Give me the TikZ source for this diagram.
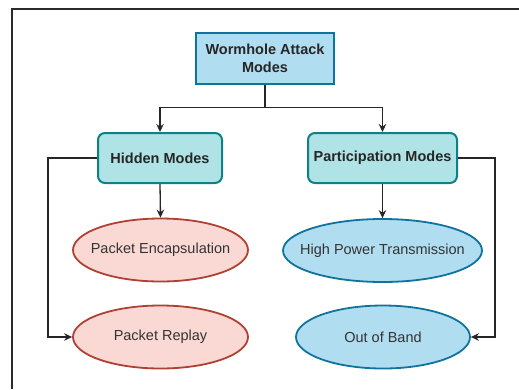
\documentclass[tikz,border=0pt]{standalone}
\usepackage{fontspec}
\setmainfont{Liberation Sans}
\usetikzlibrary{shapes.geometric,arrows.meta}
\definecolor{rootfill}{HTML}{B1DDF0}
\definecolor{rootdraw}{HTML}{10739E}
\definecolor{tealfill}{HTML}{B0E3E6}
\definecolor{tealdraw}{HTML}{0E8088}
\definecolor{pinkfill}{HTML}{FAD9D5}
\definecolor{pinkdraw}{HTML}{AE4132}
\definecolor{txtgray}{HTML}{333333}
\definecolor{framecol}{HTML}{2B2B2B}
\tikzset{
  rootbox/.style={draw=rootdraw, fill=rootfill, line width=2pt, minimum width=138pt, minimum height=51pt, inner sep=0pt, align=center, font=\fontsize{14.5}{18.5}\selectfont\bfseries, text=black!85},
  modebox/.style={draw=tealdraw, fill=tealfill, line width=2pt, rounded corners=7pt, minimum height=50pt, inner sep=0pt, font=\fontsize{14.5}{18}\selectfont\bfseries, text=black!85},
  pinkell/.style={ellipse, draw=pinkdraw, fill=pinkfill, line width=1.8pt, minimum width=175pt, minimum height=63pt, inner sep=0pt},
  blueell/.style={ellipse, draw=rootdraw, fill=rootfill, line width=1.8pt, minimum height=63pt, inner sep=0pt},
  elltext/.style={font=\fontsize{14.5}{18}\selectfont, text=txtgray, inner sep=0pt},
  arr/.style={draw=black!85, line width=1.3pt, -{Stealth[length=8pt,width=7.5pt]}},
  ln/.style={draw=black!85, line width=1.3pt},
}
\begin{document}
\begin{tikzpicture}[x=1pt,y=-1pt]
\useasboundingbox (0,0) rectangle (519,389);
\draw[framecol, line width=2pt] (12,389) -- (12,9) -- (519,9);

\node[rootbox] (root) at (265,58.5) {Wormhole Attack\\Modes};
\node[modebox, minimum width=124pt] (hid) at (160,158) {Hidden Modes};
\node[modebox, minimum width=149pt] (par) at (382.5,158) {Participation Modes};

\node[pinkell] (pe) at (160.5,250) {};
\node[elltext] (pel) at (pe) {Packet Encapsulation};
\node[blueell, minimum width=199pt] (hpt) at (382.5,250.5) {};
\node[elltext] (hptl) at (hpt) {High Power Transmission};
\node[pinkell] (pr) at (160.5,337) {};
\node[elltext] (prl) at (pr) {Packet Replay};
\node[blueell, minimum width=174pt] (oob) at (383,337) {};
\node[elltext] (oobl) at (oob) {Out of Band};

\coordinate (j) at (265,107.5);
\draw[ln] (root.south) -- (j);
\draw[arr] (j) -| (hid.north);
\draw[arr] (j) -| (par.north);
\draw[arr] (hid.south) -- (pe.north);
\draw[arr] (par.south) -- (hpt.north);
\draw[arr] (hid.west) -- ++(-49,0) |- (pr.west);
\draw[arr] (par.east) -- ++(37,0) |- (oob.east);
\end{tikzpicture}
\end{document}
